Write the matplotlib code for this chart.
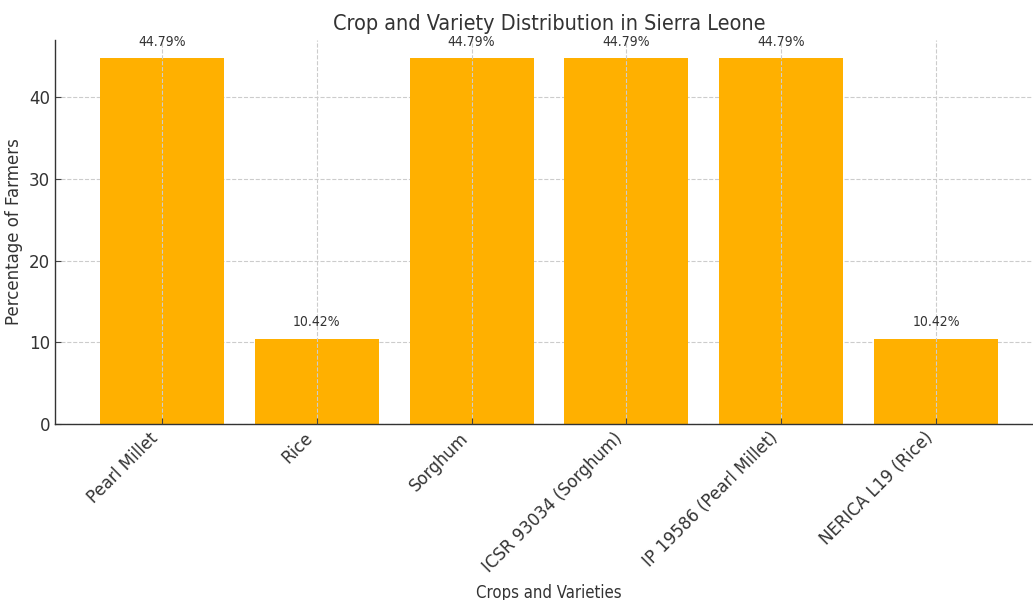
import matplotlib
matplotlib.use("Agg")
import matplotlib.pyplot as plt
from matplotlib import font_manager

categories = ["Pearl Millet", "Rice", "Sorghum", "ICSR 93034 (Sorghum)",
              "IP 19586 (Pearl Millet)", "NERICA L19 (Rice)"]
percentages = [44.79, 10.42, 44.79, 44.79, 44.79, 10.42]
value_labels = ["44.79%", "10.42%", "44.79%", "44.79%", "44.79%", "10.42%"]

title = "Crop and Variety Distribution in Sierra Leone"
xlabel = "Crops and Varieties"
ylabel = "Percentage of Farmers"

bar_color = "#FFB000"
text_color = "#333333"

# Prefer a condensed face for the narrow text, if one is installed
condensed = [f for f in font_manager.fontManager.ttflist
             if f.name == "DejaVu Sans" and f.stretch == "condensed"]
narrow_stretch = "condensed" if condensed else "normal"

plt.rcParams["font.family"] = ["DejaVu Sans"]

fig = plt.figure(figsize=(10.33, 6.0), dpi=100)
ax = fig.add_axes([0.0532, 0.2933, 0.9565, 0.64])

x = list(range(len(categories)))
bars = ax.bar(x, percentages, width=0.8, color=bar_color, zorder=1)

for xi, h, lab in zip(x, percentages, value_labels):
    ax.annotate(lab, (xi, h), xytext=(0, 7), textcoords="offset points",
                ha="center", va="bottom", fontsize=10, color=text_color,
                fontstretch=narrow_stretch)

ax.set_xticks(x)
ax.set_xticklabels(categories, rotation=45, ha="right", fontsize=12,
                   color=text_color)
ax.set_yticks([0, 10, 20, 30, 40])
ax.tick_params(axis="y", labelsize=12, labelcolor=text_color)
ax.tick_params(direction="in", length=4, color="#444444")

ax.set_title(title, fontsize=15.5, color=text_color, pad=7,
             fontstretch=narrow_stretch)
ax.set_xlabel(xlabel, fontsize=12, color=text_color, labelpad=6,
              fontstretch=narrow_stretch)
ax.set_ylabel(ylabel, fontsize=12, color=text_color)

ax.grid(True, linestyle="--", color="#cccccc", linewidth=0.8)
# vertical gridlines sit over the bars, horizontal ones behind them
ax.yaxis.set_zorder(0.5)
ax.xaxis.set_zorder(2.5)

for side in ("top", "right"):
    ax.spines[side].set_visible(False)
for side in ("left", "bottom"):
    ax.spines[side].set_color("#333333")
    ax.spines[side].set_linewidth(1.0)

fig.savefig("out.png", dpi=100)
